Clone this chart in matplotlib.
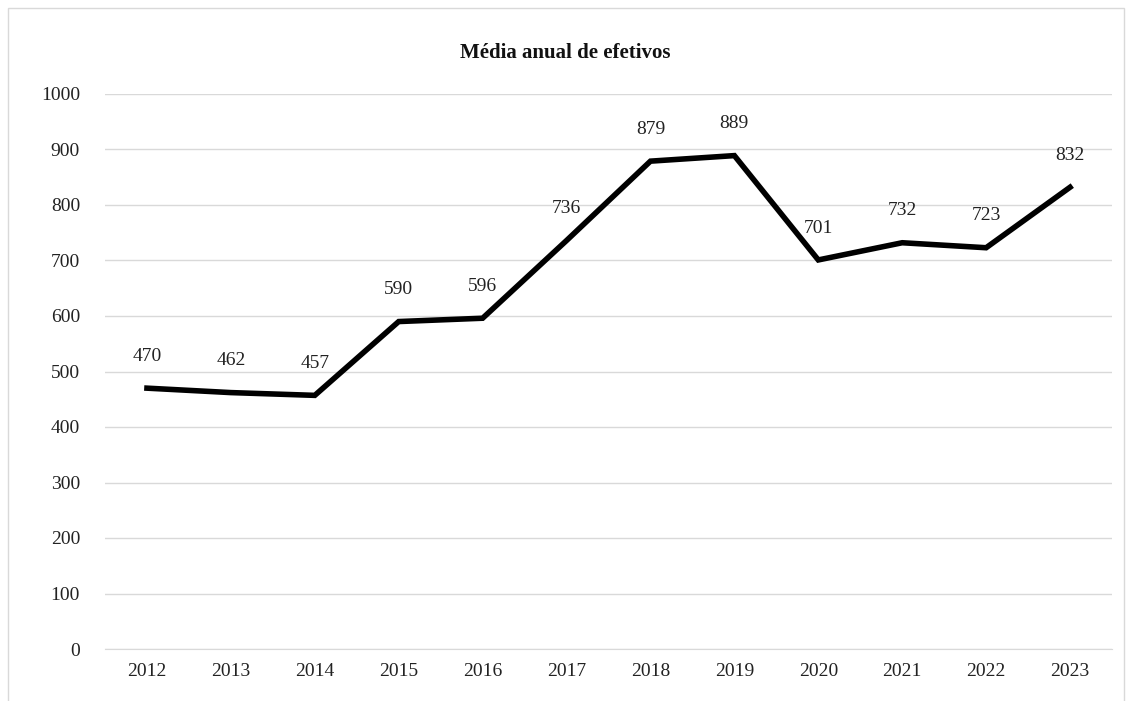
import matplotlib
matplotlib.use("Agg")
import matplotlib.pyplot as plt
from matplotlib.patches import Rectangle

years = ["2012", "2013", "2014", "2015", "2016", "2017",
         "2018", "2019", "2020", "2021", "2022", "2023"]
efetivos = [470, 462, 457, 590, 596, 736, 879, 889, 701, 732, 723, 832]
yticks = [0, 100, 200, 300, 400, 500, 600, 700, 800, 900, 1000]

plt.rcParams["font.family"] = ["Liberation Serif", "DejaVu Serif"]

fig = plt.figure(figsize=(11.31, 7.01), dpi=100)
ax = fig.add_axes([105 / 1131, 1 - 649 / 701, 1007 / 1131, 555 / 701])

x = list(range(len(years)))
ax.plot(x, efetivos, color="black", linewidth=4, solid_joinstyle="miter", zorder=3)

for xi, v in zip(x, efetivos):
    ax.annotate(str(v), (xi, v), xytext=(0, 23), textcoords="offset points",
                ha="center", va="center", fontsize=14, color="#222222")

ax.set_xlim(-0.5, len(years) - 0.5)
ax.set_ylim(0, 1000)
ax.set_yticks(yticks)
ax.set_xticks(x)
ax.set_xticklabels(years)
ax.tick_params(axis="both", length=0, labelsize=14, colors="#222222")
ax.tick_params(axis="y", pad=18)
ax.tick_params(axis="x", pad=10)
ax.grid(axis="y", color="#d9d9d9", linewidth=1)
ax.set_axisbelow(True)
for s in ["top", "right", "left"]:
    ax.spines[s].set_visible(False)
ax.spines["bottom"].set_color("#d9d9d9")

fig.text(0.5, 1 - 53 / 701, "Média anual de efetivos", ha="center", va="center",
         fontsize=15, fontweight="bold", color="#111111")

fig.patches.append(Rectangle((8 / 1131, -0.01), 1116 / 1131, 1 - 8 / 701 + 0.01,
                             transform=fig.transFigure, fill=False,
                             edgecolor="#d9d9d9", linewidth=1))

fig.savefig("out.png", dpi=100)
